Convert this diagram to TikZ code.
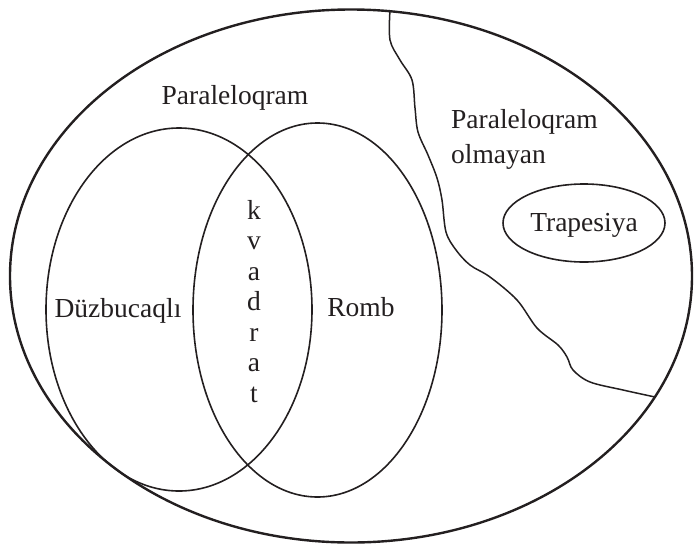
\documentclass[tikz,border=0pt]{standalone}
\usepackage{fontspec}
\setmainfont{Liberation Serif}
\usetikzlibrary{shapes.geometric}
\definecolor{ink}{HTML}{231F20}
\begin{document}
\begin{tikzpicture}[x=1pt,y=-1pt,
  setline/.style={draw=ink,line width=1.6pt},
  outerset/.style={draw=ink,line width=2.4pt,ellipse,inner sep=0pt},
  innerset/.style={setline,ellipse,inner sep=0pt},
  lbl/.style={font=\fontsize{27.5}{32}\selectfont,inner sep=0pt,anchor=base,text=ink}]
\useasboundingbox (0,0) rectangle (694,544);

% universe: all quadrilaterals
\node[outerset,minimum width=682pt,minimum height=533pt] (all) at (351,276) {};

% the two overlapping sets
\node[innerset,minimum width=266pt,minimum height=363pt] (rect) at (179,309.5) {};
\node[innerset,minimum width=249pt,minimum height=374pt] (romb) at (317.5,310) {};

% trapezoid set
\node[innerset,minimum width=162pt,minimum height=78pt] (trap) at (584,223) {};

% boundary between parallelograms and the rest
\coordinate (wtop) at (390,10);
\coordinate (wend) at (655,397);
\draw[setline,line width=1.5pt] plot[smooth,tension=0.55] coordinates {
  (wtop) (390,40) (400,60) (412,80) (415,108) (418,132) (428,155)
  (437,178) (442,200) (446,232) (456,250) (470,265) (490,277)
  (517,300) (537,328) (558,345) (567,357) (573,370) (590,382)
  (623,390) (wend)};

% labels
\node[lbl] (tpar) at (235,104) {Paraleloqram};
\node[lbl,anchor=base west] (tnon1) at (451,128) {Paraleloqram};
\node[lbl,anchor=base west] (tnon2) at (451,163) {olmayan};
\node[lbl] (ttrap) at (584,231) {Trapesiya};
\node[lbl] (trect) at (118,317) {Düzbucaqlı};
\node[lbl] (tromb) at (361,316) {Romb};

% square: letters stacked in the overlap
\foreach \ch [count=\i from 0] in {k,v,a,d,r,a,t}
  \node[lbl] (sq\i) at (254,{219+30.5*\i}) {\ch};
\end{tikzpicture}
\end{document}
